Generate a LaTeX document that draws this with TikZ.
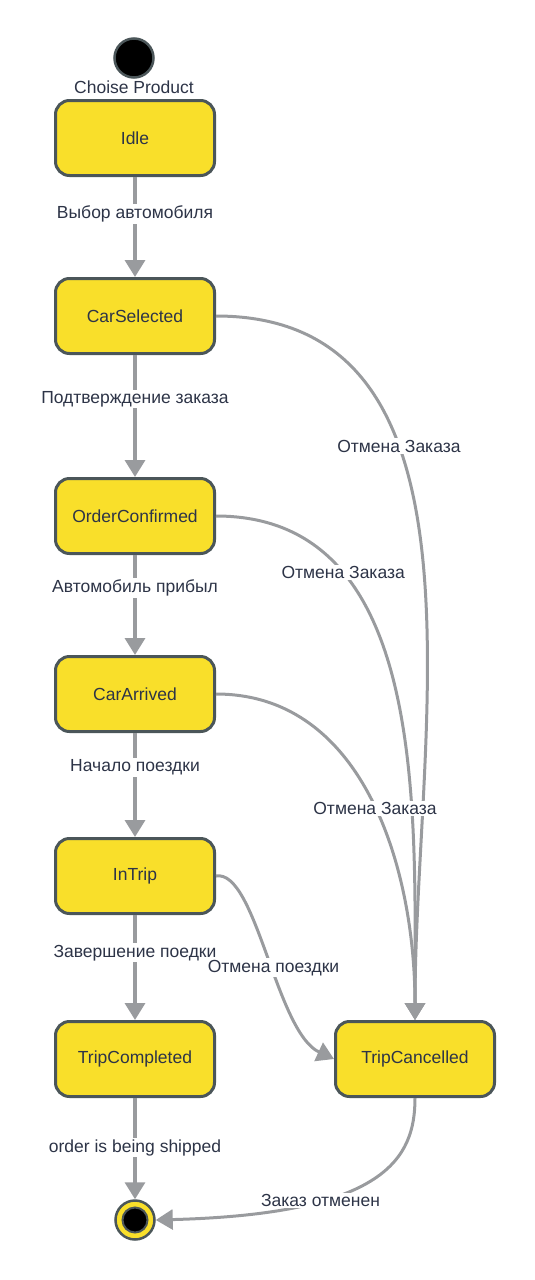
\documentclass[tikz,border=0pt]{standalone}
\usepackage{fontspec}
\setmainfont{Liberation Sans}
\usetikzlibrary{arrows.meta}
\definecolor{stateyellow}{HTML}{F9DF2A}
\definecolor{bordergray}{HTML}{4B5659}
\definecolor{arrowgray}{HTML}{999B9E}
\definecolor{ink}{HTML}{2D3447}
\def\estados{idle/138/Idle, carsel/316/CarSelected, ordconf/516/OrderConfirmed, arrived/694/CarArrived, intrip/876/InTrip, tripdone/1059/TripCompleted}
\def\passos{idle/carsel/0.37/Выбор автомобиля, carsel/ordconf/0.36/Подтверждение заказа, ordconf/arrived/0.33/Автомобиль прибыл, arrived/intrip/0.33/Начало поездки, intrip/tripdone/0.36/Завершение поедки, tripdone/fim/0.49/order is being shipped}
\tikzset{
  statebox/.style={rectangle, rounded corners=14pt, draw=bordergray, fill=stateyellow, line width=3pt, minimum width=159pt, minimum height=75pt, inner sep=0pt, text=ink},
  startdot/.style={circle, draw=bordergray, fill=black, line width=2.5pt, inner sep=0pt, minimum size=39pt},
  enddot/.style={circle, draw=bordergray, fill=stateyellow, line width=2.5pt, inner sep=0pt, minimum size=39pt},
  endcore/.style={circle, draw=bordergray, fill=black, line width=2pt, inner sep=0pt, minimum size=25pt},
  trans/.style={arrowgray, line width=3.5pt, -{Triangle[length=17pt, width=20pt]}},
  curvetrans/.style={arrowgray, line width=3pt, -{Triangle[length=17pt, width=20pt]}},
  translabel/.style={fill=white, text=ink, inner sep=1.5pt},
}

\begin{document}
\begin{tikzpicture}[x=1pt, y=-1pt, font=\fontsize{17.5}{21}\selectfont]
  \useasboundingbox (0,0) rectangle (535,1280);

  % ---------------- estados ----------------
  \node[startdot] (inicio) at (134,58) {};
  \node[text=ink, inner sep=0pt] (inicioLbl) at (134,87) {Choise Product};
  \foreach \n/\y/\t in \estados { \node[statebox] (\n) at (135,\y) {\t}; }
  \node[statebox] (tripcanc) at (415,1059) {TripCancelled};
  \node[enddot] (fim) at (135,1220) {};
  \node[endcore] (fimCore) at (fim) {};

  % ---------------- caminho principal ----------------
  \foreach \a/\b/\p/\t in \passos {
    \draw[trans] (\a) -- node[translabel, pos=\p] {\t} (\b);
  }

  % ---------------- cancelamentos ----------------
  \draw[curvetrans] (carsel.east) .. controls +(286,0) and +(0,-286) .. node[translabel, pos=0.35] {Отмена Заказа} (tripcanc.north);
  \draw[curvetrans] (ordconf.east) .. controls +(212,0) and +(0,-212) .. node[translabel, pos=0.27] {Отмена Заказа} (tripcanc.north);
  \draw[curvetrans] (arrived.east) .. controls +(149,0) and +(0,-149) .. node[translabel, pos=0.52] {Отмена Заказа} (tripcanc.north);
  \draw[curvetrans] (intrip.east) .. controls +(40,-7) and +(-58,-27) .. node[translabel, pos=0.55] {Отмена поездки} (tripcanc.west);
  \draw[curvetrans] (tripcanc.south) .. controls +(0,60) and +(230,-6) .. node[translabel, pos=0.68] {Заказ отменен} (fim.east);
\end{tikzpicture}
\end{document}
